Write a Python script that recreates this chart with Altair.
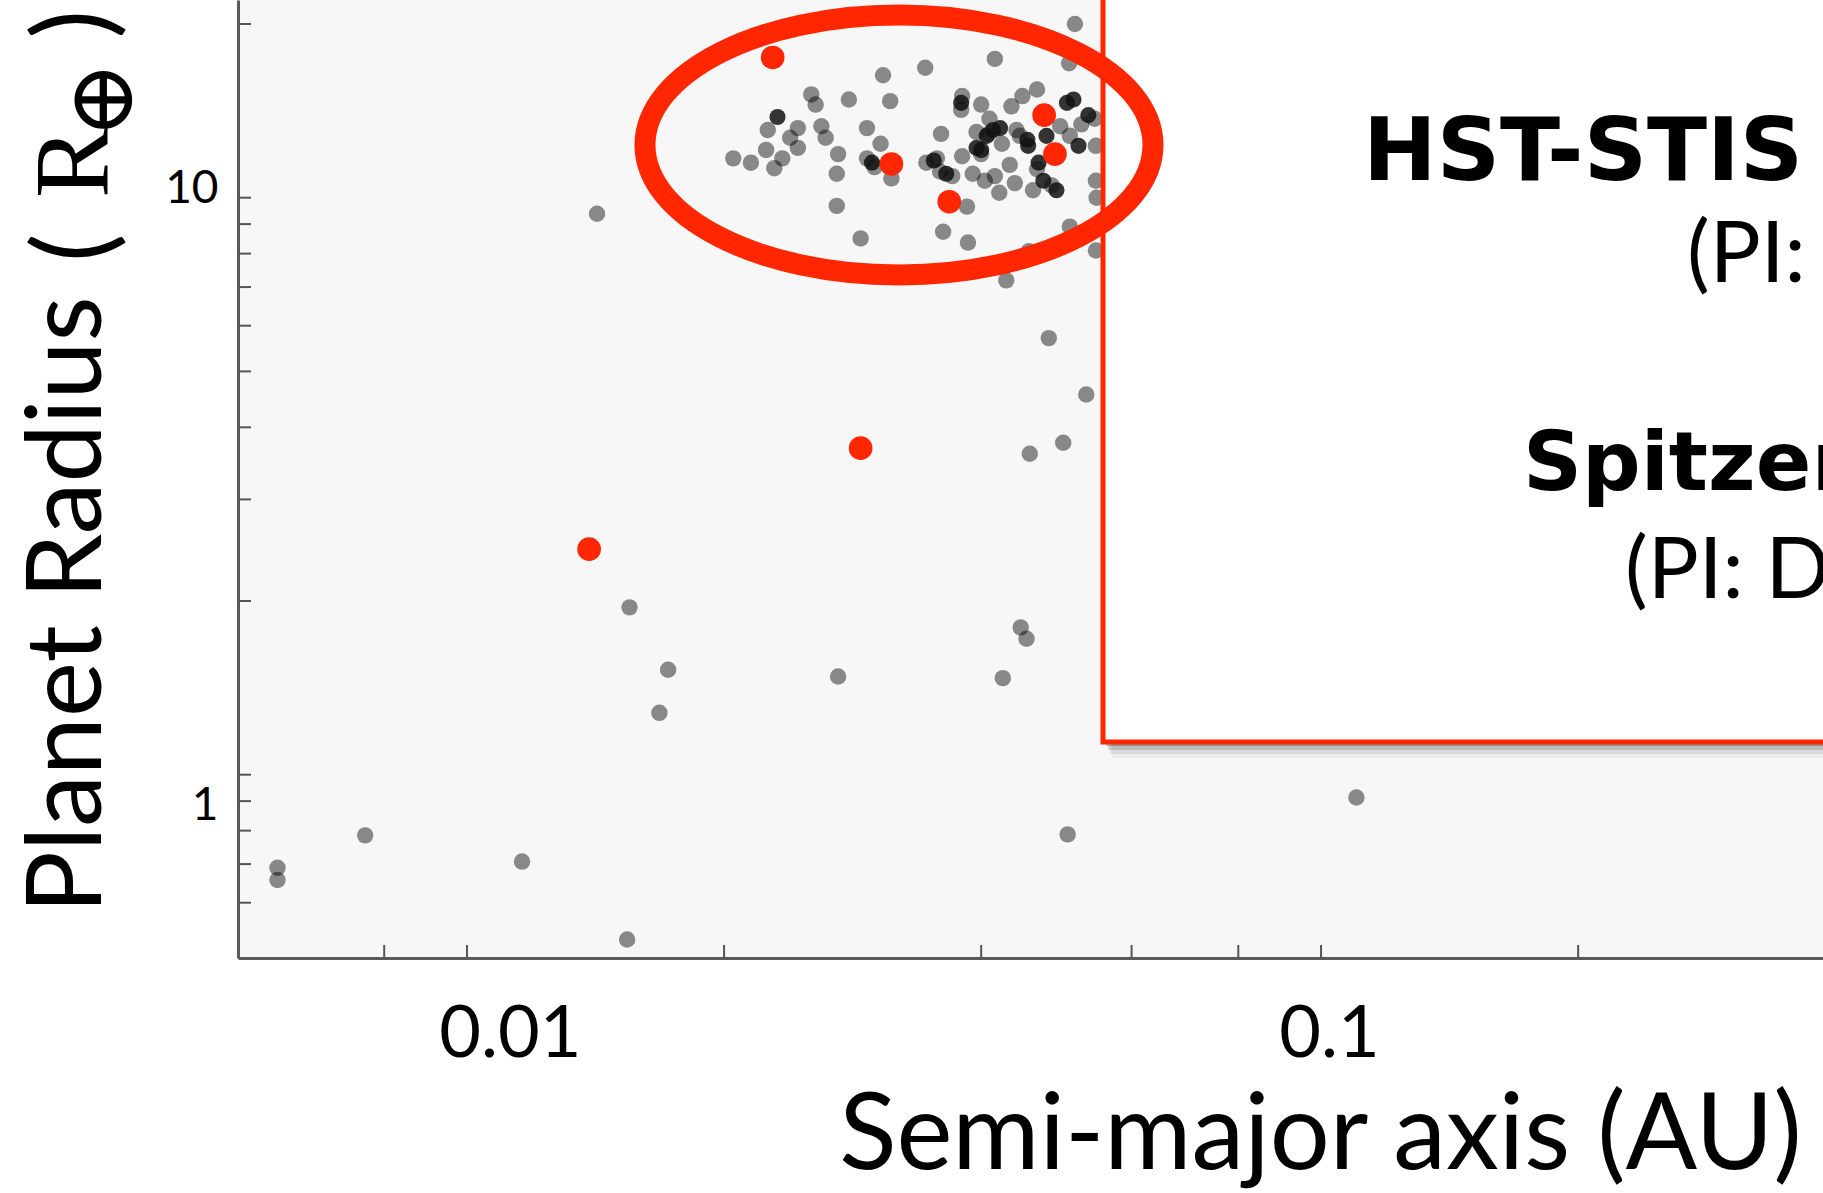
import altair as alt
import pandas as pd

# ---------------- data ----------------
# Semi-major axis (AU) and planet radius (Earth radii)
GRAY_A = [0.0205, 0.0215, 0.0225, 0.0224, 0.0229, 0.0234, 0.0239, 0.0244, 0.0244,
          0.0253, 0.0256, 0.026, 0.0263, 0.028, 0.0272, 0.0271, 0.0271, 0.0289,
          0.0294, 0.0305, 0.0294, 0.030, 0.0314, 0.0307, 0.0313, 0.0344, 0.0415,
          0.0359, 0.0345, 0.0355, 0.0358, 0.037, 0.038, 0.0379, 0.040, 0.038,
          0.0385, 0.0361, 0.0386, 0.0391, 0.0395, 0.040, 0.0404, 0.0408, 0.0415,
          0.042, 0.0423, 0.0434, 0.0447, 0.0465, 0.0432, 0.0438, 0.0444, 0.046,
          0.0465, 0.0484, 0.0495, 0.0508, 0.0524, 0.0543, 0.0545, 0.0545, 0.0508,
          0.0455, 0.0507, 0.0428, 0.0515, 0.0545, 0.0546, 0.0409, 0.044,
          0.0142, 0.048, 0.0531, 0.0499, 0.0456, 0.0445, 0.0452, 0.0424, 0.0272,
          0.0155, 0.0172, 0.0168, 0.0505, 0.110, 0.0076, 0.0116, 0.0060, 0.0060,
          0.0154]
GRAY_R = [11.7, 11.5, 13.1, 12.1, 11.25, 11.7, 12.7, 13.2, 12.2,
          15.1, 14.5, 13.3, 12.7, 14.8, 11.9, 11.0, 9.68, 8.5,
          13.2, 12.4, 11.7, 11.3, 10.8, 16.3, 14.7, 16.8, 17.4,
          12.9, 11.5, 11.7, 11.1, 10.9, 15.0, 14.2, 14.5, 11.8,
          9.65, 8.73, 8.36, 11.0, 13.0, 11.9, 10.7, 12.9, 10.9,
          10.2, 12.4, 14.4, 15.0, 15.4, 11.4, 10.6, 12.8, 10.3,
          11.2, 10.5, 13.3, 12.8, 13.4, 13.7, 12.3, 10.7, 8.91,
          8.08, 17.1, 7.19, 20.0, 8.1, 10.0, 13.7, 13.1,
          9.38, 5.71, 4.56, 3.76, 3.60, 1.80, 1.72, 1.47, 1.48,
          1.95, 1.52, 1.28, 0.788, 0.913, 0.785, 0.707, 0.690, 0.657,
          0.518]

DARK_A = [0.0231, 0.0298, 0.0352, 0.0364, 0.0379, 0.040, 0.0413, 0.0421, 0.0454,
          0.0453, 0.0467, 0.0473, 0.049, 0.0477, 0.0504, 0.0513, 0.052, 0.0534,
          0.0406, 0.0395]
DARK_R = [13.8, 11.5, 11.6, 11.0, 14.6, 12.1, 13.1, 13.2, 12.3,
          12.6, 11.5, 10.7, 10.3, 12.8, 14.6, 14.8, 12.3, 13.9,
          12.8, 12.2]

RED_A = [0.0228, 0.0314, 0.0367, 0.0474, 0.0488, 0.0289, 0.0139]
RED_R = [17.5, 11.44, 9.84, 13.9, 11.9, 3.68, 2.46]

X_TICKS = [0.008, 0.01, 0.02, 0.04, 0.06, 0.08, 0.1, 0.2]
Y_TICKS = [0.6, 0.7, 0.8, 0.9, 1, 2, 3, 4, 5, 6, 7, 8, 9, 10, 20]
X_LABELS = [0.01, 0.1]
Y_LABELS = [1, 10]

ELLIPSE_A = [0.03205]
ELLIPSE_R = [12.34]

BOX_LINES = ["HST-STIS", "(PI: Ehrenreich)", "Spitzer", "(PI: Désert)"]

# ---------------- layout ----------------
W, H = 1585, 958
RED = "#ff2600"

x_scale = alt.Scale(type="log", domain=[0.005394, 0.387], nice=False, zero=False)
y_scale = alt.Scale(type="log", domain=[0.4812, 22.01], nice=False, zero=False)

x_axis = alt.Axis(
    values=X_LABELS, labelExpr="datum.value < 0.05 ? '0.01' : '0.1'",
    title="Semi-major axis (AU)", grid=False, ticks=False, tickSize=0,
    domainColor="#5a5a5a", domainWidth=3,
    labelFont="Lato", labelFontSize=72, labelColor="black",
    labelBaseline="alphabetic", labelPadding=98, labelFlush=False, labelOverlap=False,
    labelOffset=alt.condition("datum.value < 0.05", alt.value(43), alt.value(8)),
    titleFont="Lato", titleFontSize=106, titleFontWeight="normal", titleColor="black",
    titleX=1082, titleY=210, titleAlign="center", titleBaseline="alphabetic",
)
y_axis = alt.Axis(
    values=Y_LABELS, labelExpr="datum.value < 5 ? '1' : '10'",
    title="Planet Radius", grid=False, ticks=False, tickSize=0,
    domainColor="#5a5a5a", domainWidth=3,
    labelFont="Lato", labelFontSize=46, labelColor="black",
    labelAlign="right", labelBaseline="middle", labelPadding=20,
    labelFlush=False, labelOverlap=False,
    labelOffset=alt.condition("datum.value < 5", alt.value(31), alt.value(-9)),
    titleFont="Lato", titleFontSize=104, titleFontWeight="normal", titleColor="black",
    titleAngle=270, titleAlign="left", titleBaseline="alphabetic",
    titleX=-138, titleY=913,
)


def X(f):
    return alt.X(f"{f}:Q", scale=x_scale, axis=x_axis)


def Y(f):
    return alt.Y(f"{f}:Q", scale=y_scale, axis=y_axis)


one = pd.DataFrame({"k": [0]})

xticks = alt.Chart(pd.DataFrame({"t": X_TICKS})).mark_rule(color="#555555", strokeWidth=2).encode(
    x=X("t"), y=alt.value(H - 13), y2=alt.value(H))
yticks = alt.Chart(pd.DataFrame({"t": Y_TICKS})).mark_rule(color="#555555", strokeWidth=2).encode(
    y=Y("t"), x=alt.value(0), x2=alt.value(13))

gray = alt.Chart(pd.DataFrame({"a": GRAY_A, "r": GRAY_R})).mark_circle(
    size=270, color="black", opacity=0.45).encode(x=X("a"), y=Y("r"))
dark = alt.Chart(pd.DataFrame({"a": DARK_A, "r": DARK_R})).mark_circle(
    size=260, color="#111111", opacity=0.85).encode(x=X("a"), y=Y("r"))
red = alt.Chart(pd.DataFrame({"a": RED_A, "r": RED_R})).mark_circle(
    size=560, color=RED, opacity=1).encode(x=X("a"), y=Y("r"))

BOX_L, BOX_B = 865, 742
shadows = []
for dx, dy, op in [(3, 4, 0.22), (5, 8, 0.14), (7, 12, 0.08), (9, 16, 0.04)]:
    shadows.append(alt.Chart(one).mark_rect(color="black", opacity=op).encode(
        x=alt.value(BOX_L + dx), x2=alt.value(W + 200),
        y=alt.value(-30), y2=alt.value(BOX_B + dy)))
box = alt.Chart(one).mark_rect(fill="white", stroke=RED, strokeWidth=5).encode(
    x=alt.value(BOX_L), x2=alt.value(W + 200), y=alt.value(-30), y2=alt.value(BOX_B))

ELL_PATH = ("M -1 0 C -1 -0.2827 -0.5523 -0.5118 0 -0.5118 "
            "C 0.5523 -0.5118 1 -0.2827 1 0 "
            "C 1 0.2827 0.5523 0.5118 0 0.5118 "
            "C -0.5523 0.5118 -1 0.2827 -1 0 Z")
ellipse = alt.Chart(pd.DataFrame({"a": ELLIPSE_A, "r": ELLIPSE_R})).mark_point(
    shape=ELL_PATH, size=258064, filled=False, color=RED, stroke=RED,
    strokeWidth=21, opacity=1).encode(x=X("a"), y=Y("r"))

box_text_style = [
    (1125, 180, "DejaVu Sans", 88, "bold"),
    (1449, 282, "Lato", 85, "normal"),
    (1285, 490, "DejaVu Sans", 82, "bold"),
    (1387, 598, "Lato", 85, "normal"),
]
texts = []
for line, (tx, ty, fnt, fs, fw) in zip(BOX_LINES, box_text_style):
    texts.append(alt.Chart(one).mark_text(
        text=line, align="left", baseline="alphabetic", font=fnt, fontSize=fs,
        fontWeight=fw, color="black").encode(x=alt.value(tx), y=alt.value(ty)))

# the "( R⊕ )" part of the y title
unit_parts = [
    ("(", -128, 262, "Lato", 107, "left", "alphabetic"),
    ("R", -131, 198, "Liberation Serif", 106, "left", "alphabetic"),
    ("⊕", -134, 100, "DejaVu Serif", 92, "center", "middle"),
    (")", -128, 10, "Lato", 107, "right", "alphabetic"),
]
for txt, tx, ty, fnt, fs, al, bl in unit_parts:
    texts.append(alt.Chart(one).mark_text(
        text=txt, align=al, baseline=bl, font=fnt, fontSize=fs, angle=270,
        color="black").encode(x=alt.value(tx), y=alt.value(ty)))

chart = alt.layer(
    xticks, yticks, gray, dark, red, *shadows, box, ellipse, *texts
).properties(
    width=W, height=H,
    padding={"left": 238, "top": 0, "right": 0, "bottom": 235},
    autosize=alt.AutoSizeParams(type="none"),
    background="white",
).configure_view(fill="#f7f7f7", strokeWidth=0)

chart.save("out.html", embed_options={"renderer": "svg", "actions": False})
